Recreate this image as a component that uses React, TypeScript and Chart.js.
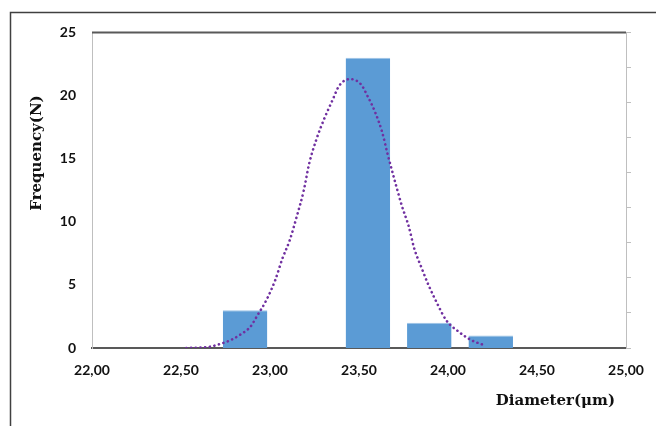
import React, { useEffect, useRef } from "react";
import { Chart, registerables } from "chart.js";

Chart.register(...registerables);

// Histogram bins (bin centres, µm) and counts
const binCenters = [22.86, 23.205, 23.55, 23.895, 24.24];
const frequencies = [3, 0, 23, 2, 1];

// Fitted normal curve
const curveX = [22.53, 22.66, 22.72, 22.78, 22.83, 22.89, 22.93, 22.98, 23.03, 23.07, 23.11, 23.15, 23.19, 23.22, 23.26, 23.3, 23.35, 23.39, 23.45, 23.51, 23.55, 23.59, 23.63, 23.66, 23.7, 23.74, 23.78, 23.81, 23.85, 23.89, 23.94, 23.99, 24.06, 24.13, 24.2];
const curveY = [0.0, 0.1, 0.32, 0.63, 1.03, 1.69, 2.6, 3.8, 5.4, 7.1, 8.5, 10.4, 12.5, 14.6, 16.5, 18.0, 19.6, 20.8, 21.3, 20.9, 19.9, 18.7, 17.1, 15.4, 13.3, 11.3, 9.6, 7.9, 6.4, 5.0, 3.5, 2.2, 1.29, 0.63, 0.24];

const xTitle = "Diameter(μm)";
const yTitle = "Frequency(N)";

const tickFont = { family: "Lato, 'Liberation Sans', sans-serif", size: 14, weight: "bold" as const };
const titleFont = "bold 15px 'DejaVu Serif', serif";

const framePlugin = {
  id: "framePlugin",
  afterDraw(chart: any) {
    const { ctx, chartArea } = chart;
    ctx.save();
    // outer frame (left and top)
    ctx.strokeStyle = "#404040";
    ctx.lineWidth = 1.5;
    ctx.beginPath();
    ctx.moveTo(2.5, chart.height);
    ctx.lineTo(2.5, 4.5);
    ctx.lineTo(chart.width, 4.5);
    ctx.stroke();
    // plot top border
    ctx.strokeStyle = "#595959";
    ctx.lineWidth = 2;
    ctx.beginPath();
    ctx.moveTo(chartArea.left, chartArea.top);
    ctx.lineTo(chartArea.right, chartArea.top);
    ctx.stroke();
    // axis titles
    ctx.fillStyle = "#111111";
    ctx.font = titleFont;
    ctx.textBaseline = "middle";
    ctx.textAlign = "right";
    ctx.fillText(xTitle, 607, 393);
    ctx.translate(29, 145);
    ctx.rotate(-Math.PI / 2);
    ctx.textAlign = "center";
    ctx.fillText(yTitle, 0, 0);
    ctx.restore();
  },
};

export default function App() {
  const ref = useRef<HTMLCanvasElement | null>(null);
  useEffect(() => {
    if (!ref.current) return;
    const chart = new Chart(ref.current, {
      type: "bar",
      data: {
        datasets: [
          {
            type: "line",
            data: curveX.map((x, i) => ({ x, y: curveY[i] })),
            borderColor: "#7030a0",
            borderWidth: 2.6,
            borderDash: [0.1, 4.6],
            borderCapStyle: "round",
            pointRadius: 0,
            cubicInterpolationMode: "monotone",
            fill: false,
            order: 0,
          } as any,
          {
            type: "bar",
            data: binCenters.map((x, i) => ({ x, y: frequencies[i] })),
            backgroundColor: "#5b9bd5",
            borderColor: "#9dc3e6",
            borderWidth: { top: 1, left: 0, right: 0, bottom: 0 },
            borderSkipped: false,
            barPercentage: 0.725,
            categoryPercentage: 1,
            order: 1,
          } as any,
        ],
      },
      options: {
        animation: false,
        responsive: true,
        maintainAspectRatio: false,
        layout: { padding: { top: 24, left: 0, right: 0, bottom: 0 } },
        plugins: { legend: { display: false }, tooltip: { enabled: false } },
        scales: {
          x: {
            type: "linear",
            min: 22,
            max: 25,
            offset: false,
            grid: { display: false, drawTicks: false },
            border: { color: "#595959", width: 2 },
            ticks: {
              stepSize: 0.5,
              padding: 14,
              color: "#111111",
              font: tickFont,
              maxRotation: 0,
              callback: (v: any) => Number(v).toFixed(2).replace(".", ","),
            },
            afterFit: (s: any) => { s.height = 78; },
          },
          y: {
            position: "left",
            min: 0,
            max: 25,
            grid: { display: false, drawTicks: false },
            border: { color: "#bfbfbf", width: 1 },
            ticks: { stepSize: 5, padding: 16, color: "#111111", font: tickFont },
            afterFit: (s: any) => { s.width = 84; },
          },
          y2: {
            position: "right",
            min: 0,
            max: 9,
            grid: { drawOnChartArea: false, drawTicks: true, tickLength: 5, color: "#bfbfbf" },
            border: { color: "#bfbfbf", width: 1 },
            ticks: { stepSize: 1, display: false },
            afterFit: (s: any) => { s.width = 38; },
          },
        },
      } as any,
      plugins: [framePlugin],
    });
    return () => chart.destroy();
  }, []);
  return (
    <div style={{ width: 656, height: 418, position: "relative" }}>
      <canvas ref={ref} />
    </div>
  );
}
